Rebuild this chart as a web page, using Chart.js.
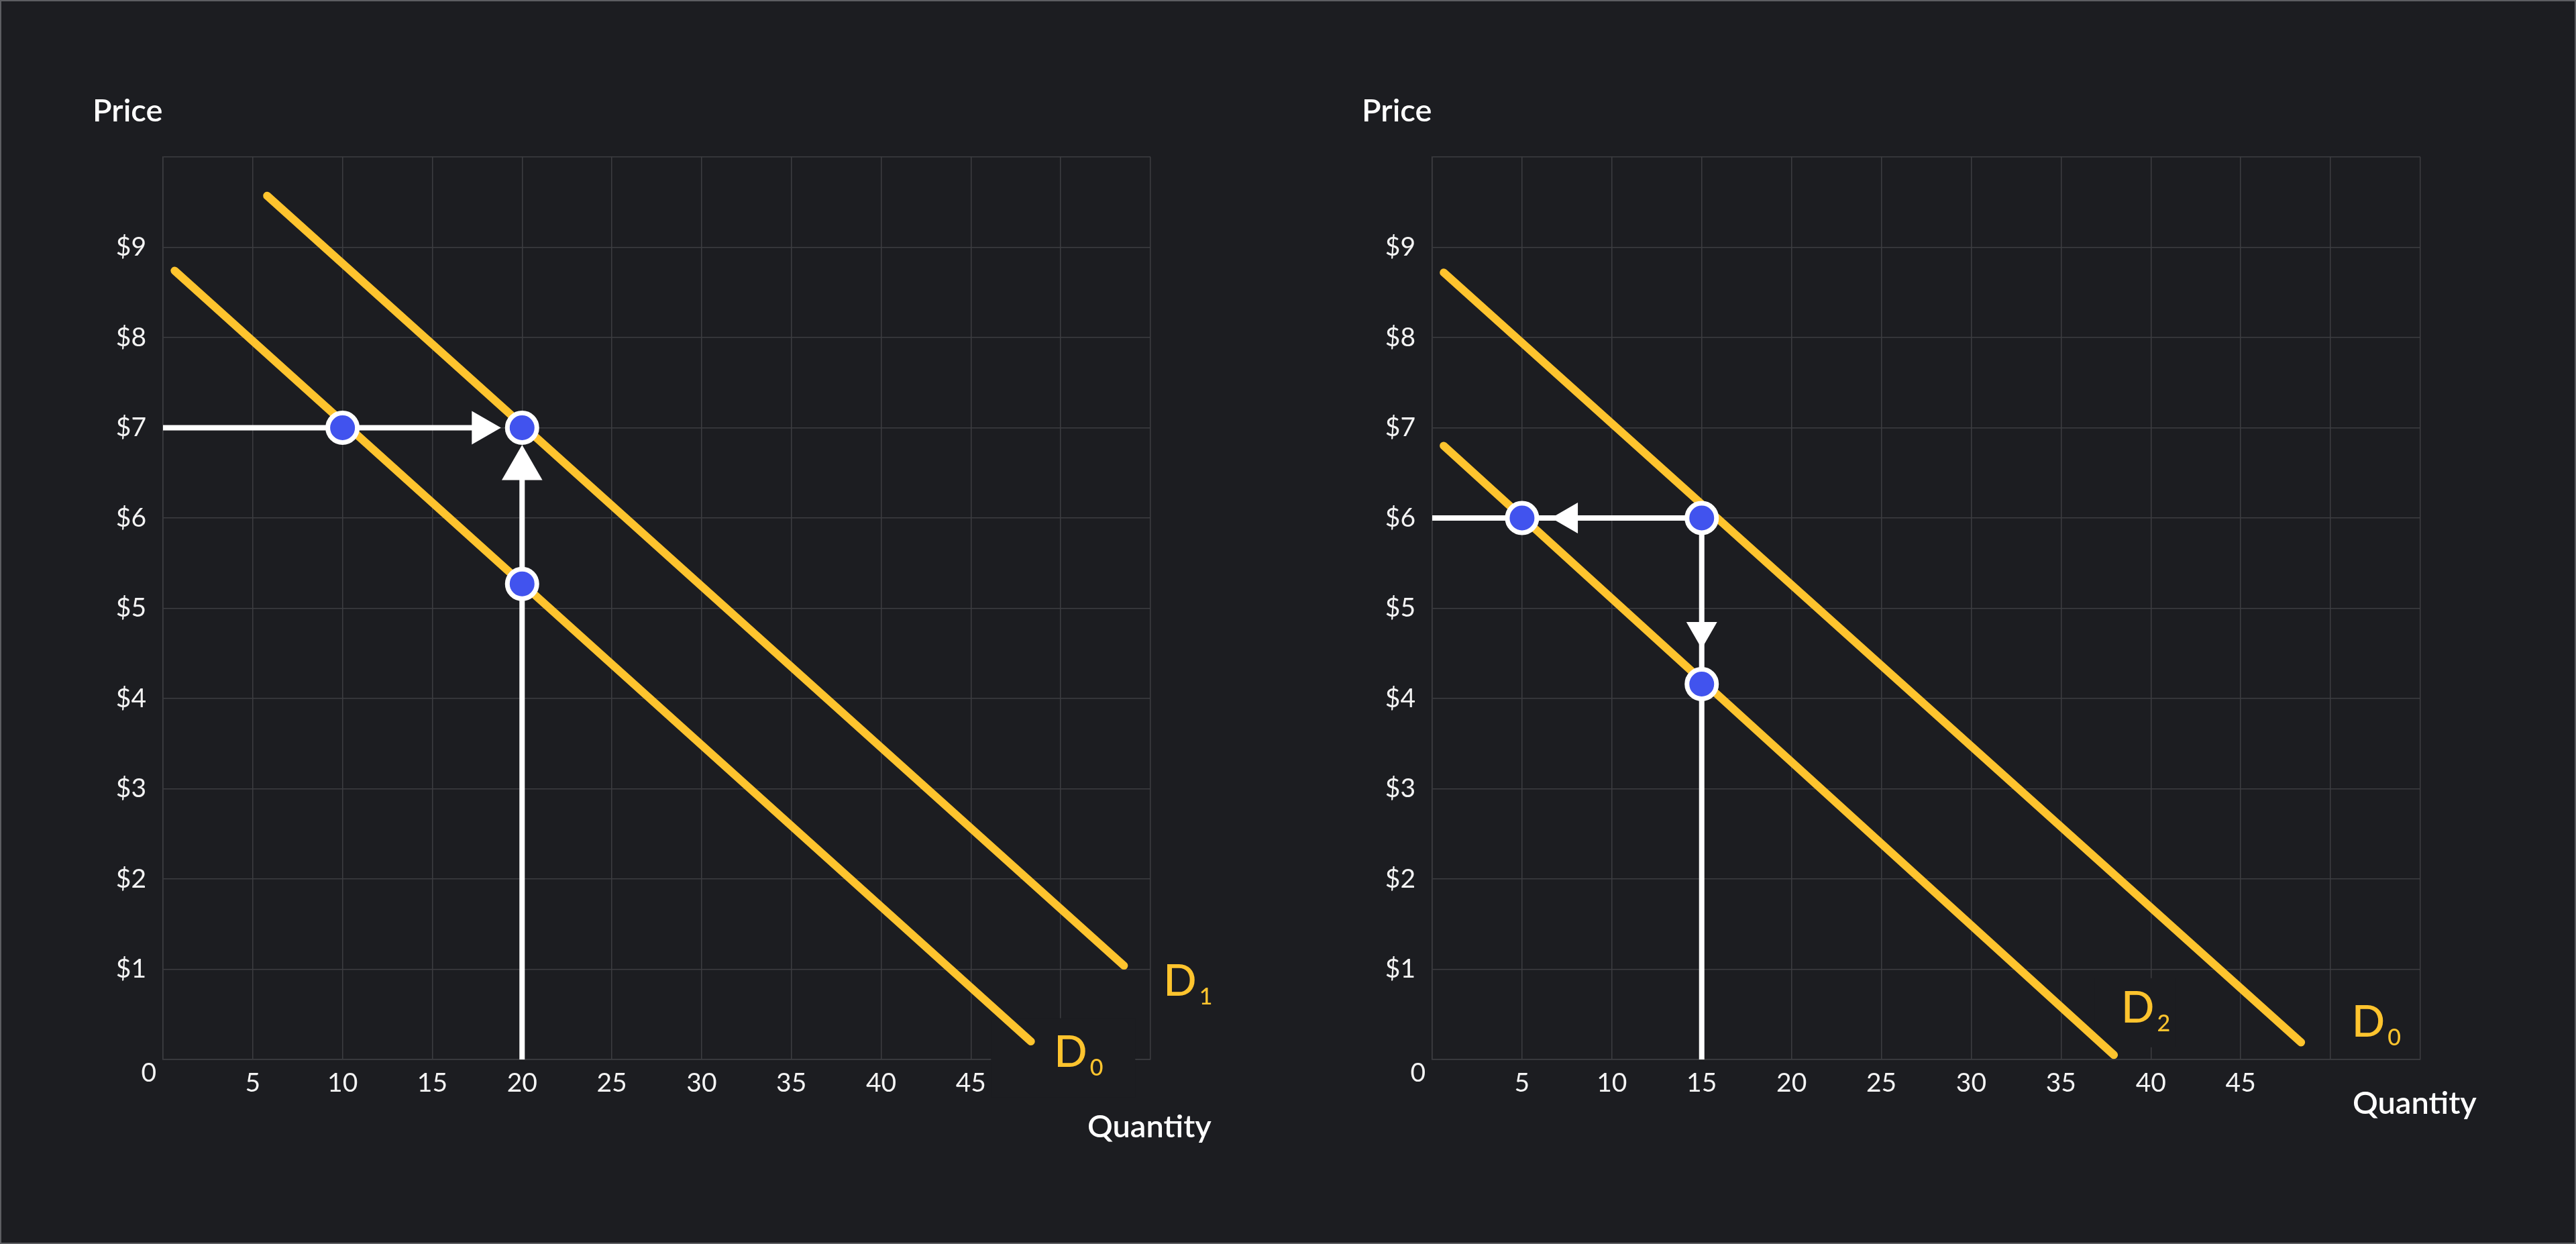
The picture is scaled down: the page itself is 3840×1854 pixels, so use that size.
<!DOCTYPE html>
<html>
<head>
<meta charset="utf-8">
<script src="https://cdn.jsdelivr.net/npm/chart.js@4.4.1/dist/chart.umd.min.js"></script>
<style>
  html, body { margin: 0; padding: 0; background: #1c1d21; }
  #frame { position: relative; width: 3840px; height: 1854px; overflow: hidden; background: #1c1d21; }
  #frame canvas { position: absolute; top: 0; }
  #edge { position: absolute; inset: 0; box-shadow: inset 0 0 0 2px #5d5e62; pointer-events: none; }
</style>
</head>
<body>
<div id="frame">
  <canvas id="leftChart" width="1920" height="1854" style="left:0"></canvas>
  <canvas id="rightChart" width="1920" height="1854" style="left:1920px"></canvas>
  <div id="edge"></div>
</div>

<script>
// ---------------- DATA ----------------
const quantityTicks = [5, 10, 15, 20, 25, 30, 35, 40, 45];
const priceTicks = [1, 2, 3, 4, 5, 6, 7, 8, 9];

// left panel: demand shifts right (D0 -> D1)
const leftD0 = [{ x: 0.65, y: 8.74 }, { x: 48.34, y: 0.2 }];
const leftD1 = [{ x: 5.8, y: 9.57 }, { x: 53.52, y: 1.04 }];
const leftPoints = [{ x: 10, y: 7 }, { x: 20, y: 7 }, { x: 20, y: 5.27 }];
const leftGuideH = [{ x: 0, y: 7 }, { x: 17.74, y: 7 }];
const leftGuideV = [{ x: 20, y: 0 }, { x: 20, y: 6.55 }];
const leftArrowHeads = [{ x: 17.74, y: 7 }, { x: 20, y: 6.55 }];
const leftArrowAngles = [90, 0];
const leftCurveLabels = [
  { name: "D", sub: "1", x: 55.72, y: 0.71 },
  { name: "D", sub: "0", x: 49.63, y: -0.085 }
];

// right panel: demand shifts left (D0 -> D2)
const rightD0 = [{ x: 0.64, y: 8.72 }, { x: 48.36, y: 0.19 }];
const rightD2 = [{ x: 0.64, y: 6.8 }, { x: 37.94, y: 0.05 }];
const rightPoints = [{ x: 5, y: 6 }, { x: 15, y: 6 }, { x: 15, y: 4.16 }];
const rightGuideH = [{ x: 0, y: 6 }, { x: 15, y: 6 }];
const rightGuideV = [{ x: 15, y: 6 }, { x: 15, y: 0 }];
const rightArrowHeads = [{ x: 7.61, y: 6 }, { x: 15, y: 4.75 }];
const rightArrowAngles = [270, 180];
const rightCurveLabels = [
  { name: "D", sub: "2", x: 38.35, y: 0.41 },
  { name: "D", sub: "0", x: 51.18, y: 0.25 }
];

// ---------------- STYLE ----------------
const BG = "#1c1d21";
const GRID = "#3c3d41";
const YELLOW = "#fec42e";
const BLUE = "#4153ee";
const WHITE = "#ffffff";
const FONT = "Lato, 'Open Sans', sans-serif";

// ---------------- LABEL PLUGIN ----------------
const econText = {
  id: "econText",
  beforeDatasetsDraw(chart, args, opts) {
    const { ctx, scales: { x, y } } = chart;
    ctx.save();
    ctx.fillStyle = BG;
    opts.labels.forEach((l, i) => {
      const box = opts.boxes[i];
      if (!box) return;
      const px = x.getPixelForValue(l.x), py = y.getPixelForValue(l.y);
      ctx.fillRect(px + box[0], py + box[1], box[2], box[3]);
    });
    ctx.restore();
  },
  afterDatasetsDraw(chart, args, opts) {
    const { ctx, chartArea, scales: { x, y } } = chart;
    ctx.save();
    ctx.textBaseline = "alphabetic";

    // curve names with subscripts
    opts.labels.forEach(l => {
      const px = x.getPixelForValue(l.x), py = y.getPixelForValue(l.y);
      ctx.fillStyle = YELLOW;
      ctx.textAlign = "left";
      ctx.font = "500 65px " + FONT;
      ctx.fillText(l.name, px, py);
      const w = ctx.measureText(l.name).width;
      ctx.font = "500 34px " + FONT;
      ctx.fillText(l.sub, px + w + 4, py + 13);
    });

    // axis titles
    ctx.fillStyle = WHITE;
    ctx.font = "600 47px " + FONT;
    ctx.textAlign = "left";
    ctx.fillText("Price", chartArea.left + opts.price[0], chartArea.top + opts.price[1]);
    ctx.fillText("Quantity", chartArea.right + opts.quantity[0], chartArea.bottom + opts.quantity[1]);

    // origin zero
    ctx.font = "400 39px " + FONT;
    ctx.fillStyle = "#f4f4f4";
    ctx.textAlign = "right";
    ctx.fillText("0", chartArea.left - 10, chartArea.bottom + 33);
    ctx.restore();
  }
};

// ---------------- CHART BUILDER ----------------
function buildChart(id, cfg) {
  const lineSet = (data, color, width, order) => ({
    type: "line",
    data: data,
    borderColor: color,
    borderWidth: width,
    borderCapStyle: "round",
    pointRadius: 0,
    fill: false,
    order: order
  });

  return new Chart(document.getElementById(id), {
    type: "scatter",
    data: {
      datasets: [
        lineSet(cfg.curveA, YELLOW, 12, 4),
        lineSet(cfg.curveB, YELLOW, 12, 4),
        lineSet(cfg.guideH, WHITE, 8, 3),
        lineSet(cfg.guideV, WHITE, 8, 3),
        {
          data: cfg.heads,
          pointStyle: "triangle",
          pointRotation: cfg.angles,
          pointRadius: cfg.headSizes,
          backgroundColor: WHITE,
          borderWidth: 0,
          order: 2
        },
        {
          data: cfg.points,
          pointStyle: "circle",
          pointRadius: 22,
          backgroundColor: BLUE,
          borderColor: WHITE,
          borderWidth: 7,
          order: 1
        }
      ]
    },
    options: {
      responsive: false,
      animation: false,
      devicePixelRatio: 1,
      events: [],
      layout: { padding: { left: 0, top: 234, right: cfg.padRight, bottom: 0 } },
      plugins: {
        legend: { display: false },
        tooltip: { enabled: false },
        econText: { labels: cfg.labels, boxes: cfg.boxes, price: cfg.price, quantity: cfg.quantity }
      },
      scales: {
        x: {
          type: "linear",
          min: 0,
          max: 55,
          afterFit: s => { s.height = 275; },
          grid: { color: GRID, lineWidth: 1.5, drawTicks: false },
          border: { color: GRID, width: 1.5 },
          ticks: {
            stepSize: 5,
            autoSkip: false,
            maxRotation: 0,
            padding: 12,
            color: "#f4f4f4",
            font: { family: FONT, size: 39 },
            callback: v => quantityTicks.includes(v) ? String(v) : ""
          }
        },
        y: {
          type: "linear",
          min: 0,
          max: 10,
          afterFit: s => { s.width = cfg.yWidth; },
          grid: { color: GRID, lineWidth: 1.5, drawTicks: false },
          border: { color: GRID, width: 1.5 },
          ticks: {
            stepSize: 1,
            autoSkip: false,
            padding: 25,
            color: "#f4f4f4",
            font: { family: FONT, size: 39 },
            callback: v => priceTicks.includes(v) ? "$" + v : ""
          }
        }
      }
    },
    plugins: [econText]
  });
}

buildChart("leftChart", {
  curveA: leftD0, curveB: leftD1,
  guideH: leftGuideH, guideV: leftGuideV,
  heads: leftArrowHeads, angles: leftArrowAngles, headSizes: [29, 35],
  points: leftPoints,
  labels: leftCurveLabels,
  boxes: [null, [-94, -73, 215, 118]],
  price: [-105, -53],
  quantity: [-94, 116],
  yWidth: 243,
  padRight: 205
});

buildChart("rightChart", {
  curveA: rightD0, curveB: rightD2,
  guideH: rightGuideH, guideV: rightGuideV,
  heads: rightArrowHeads, angles: rightArrowAngles, headSizes: [26.5, 26.5],
  points: rightPoints,
  labels: rightCurveLabels,
  boxes: [[-40, -66, 120, 103], null],
  price: [-105, -53],
  quantity: [-101, 81],
  yWidth: 215,
  padRight: 232
});
</script>
</body>
</html>
